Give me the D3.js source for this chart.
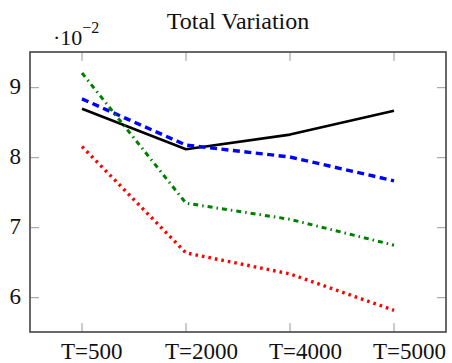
<!DOCTYPE html>
<html>
<head>
<meta charset="utf-8">
<script src="https://cdn.jsdelivr.net/npm/d3@7"></script>
<style>
	body { margin: 0; background: #fff; }
</style>
</head>
<body>
<div id="chart"></div>
<script>
// categories and series (values in units of 10^-2)
var categories = ['T=500', 'T=2000', 'T=4000', 'T=5000'];
var blackSolid = [8.70, 8.12, 8.33, 8.67];
var blueDashed = [8.84, 8.18, 8.01, 7.67];
var greenDashDot = [9.21, 7.35, 7.12, 6.75];
var redDotted = [8.16, 6.64, 6.34, 5.82];
var yTicks = [6, 7, 8, 9];

var series = [
	{ values: blackSolid, color: '#000', width: 2.6, dash: null },
	{ values: blueDashed, color: '#0000ff', width: 3.4, dash: '7,4.5' },
	{ values: greenDashDot, color: '#007f00', width: 3, dash: '5,4,1.5,4' },
	{ values: redDotted, color: '#ff0000', width: 3.4, dash: '2.6,4' }
];

var width = 452, height = 363;
// plot frame (don't use "top", it clashes with window.top)
var pLeft = 30, pRight = 446, pTop = 52, pBottom = 332;
var serif = 'Liberation Serif, DejaVu Serif, serif';

var svg = d3.select('#chart').append('svg')
	.attr('width', width)
	.attr('height', height)
	.attr('font-family', serif);

var x = d3.scalePoint()
	.domain(categories)
	.range([pLeft, pRight])
	.padding(0.5);

var y = d3.scaleLinear()
	.domain([5.51, 9.51])
	.range([pBottom, pTop]);

// inward ticks on all four sides
var tickLen = 9;
var ticks = svg.append('g').attr('stroke', '#999').attr('stroke-width', 1);
categories.forEach(function(c) {
	ticks.append('line').attr('x1', x(c)).attr('x2', x(c)).attr('y1', pBottom).attr('y2', pBottom - tickLen);
	ticks.append('line').attr('x1', x(c)).attr('x2', x(c)).attr('y1', pTop).attr('y2', pTop + tickLen);
});
yTicks.forEach(function(t) {
	ticks.append('line').attr('x1', pLeft).attr('x2', pLeft + tickLen).attr('y1', y(t)).attr('y2', y(t));
	ticks.append('line').attr('x1', pRight).attr('x2', pRight - tickLen).attr('y1', y(t)).attr('y2', y(t));
});

// series lines
var line = d3.line()
	.x(function(d, i) { return x(categories[i]); })
	.y(function(d) { return y(d); });

series.forEach(function(s) {
	svg.append('path')
		.datum(s.values)
		.attr('d', line)
		.attr('fill', 'none')
		.attr('stroke', s.color)
		.attr('stroke-width', s.width)
		.attr('stroke-dasharray', s.dash)
		.attr('stroke-linecap', 'butt')
		.attr('stroke-linejoin', 'round');
});

// frame
svg.append('rect')
	.attr('x', pLeft).attr('y', pTop)
	.attr('width', pRight - pLeft).attr('height', pBottom - pTop)
	.attr('fill', 'none')
	.attr('stroke', '#444')
	.attr('stroke-width', 1.6);

// y tick labels
svg.append('g').selectAll('text')
	.data(yTicks)
	.enter().append('text')
	.attr('x', 21)
	.attr('y', function(d) { return y(d) + 6; })
	.attr('text-anchor', 'end')
	.attr('font-family', serif)
	.attr('font-size', 23)
	.attr('fill', '#111')
	.text(function(d) { return d; });

// x tick labels (left-aligned a bit before the tick, as in the original)
svg.append('g').selectAll('text')
	.data(categories)
	.enter().append('text')
	.attr('x', function(d) { return x(d) - 21; })
	.attr('y', 359)
	.attr('font-family', serif)
	.attr('font-size', 23)
	.attr('fill', '#111')
	.text(function(d) { return d; });

// scale factor label
var sf = svg.append('text').attr('x', 53).attr('y', 45)
	.attr('font-family', serif).attr('font-size', 22).attr('fill', '#111');
sf.append('tspan').text('\u00b710');
sf.append('tspan').attr('dy', -12).attr('font-size', 16).text('\u22122');

// title
svg.append('text')
	.attr('x', (pLeft + pRight) / 2)
	.attr('y', 29)
	.attr('text-anchor', 'middle')
	.attr('font-family', serif)
	.attr('font-size', 24)
	.attr('fill', '#111')
	.text('Total Variation');
</script>
</body>
</html>
